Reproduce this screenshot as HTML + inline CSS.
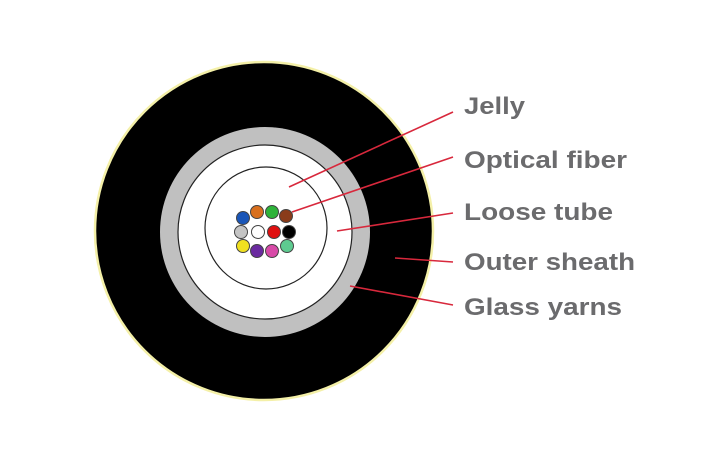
<!DOCTYPE html>
<html><head><meta charset="utf-8"><style>
html,body{margin:0;padding:0;background:#fff;}
svg{display:block;}
text{font-family:"Liberation Sans",sans-serif;font-weight:bold;fill:#6b6b6d;font-size:24px;}
</style></head><body>
<svg width="710" height="474" viewBox="0 0 710 474">
<circle cx="264" cy="231" r="169" fill="#000" stroke="#f4f0a8" stroke-width="2.5"/>
<circle cx="265" cy="232" r="105" fill="#c0c0c0"/>
<circle cx="265" cy="232" r="87" fill="#fff" stroke="#222" stroke-width="1.2"/>
<circle cx="266" cy="228" r="61" fill="#fff" stroke="#222" stroke-width="1.2"/>
<g stroke="#444" stroke-width="1">
<circle cx="243" cy="218" r="6.5" fill="#1a56b8"/>
<circle cx="257" cy="212" r="6.5" fill="#d9701e"/>
<circle cx="272" cy="212" r="6.5" fill="#2eb33a"/>
<circle cx="286" cy="216" r="6.5" fill="#8a3c1a"/>
<circle cx="241" cy="232" r="6.5" fill="#c4c4c4"/>
<circle cx="258" cy="232" r="6.5" fill="#fff"/>
<circle cx="274" cy="232" r="6.5" fill="#e01010"/>
<circle cx="289" cy="232" r="6.5" fill="#000"/>
<circle cx="243" cy="246" r="6.5" fill="#f0e020"/>
<circle cx="257" cy="251" r="6.5" fill="#6a2aa0"/>
<circle cx="272" cy="251" r="6.5" fill="#d84aa8"/>
<circle cx="287" cy="246" r="6.5" fill="#5ecb90"/>
</g>
<g stroke="#d8283c" stroke-width="1.6">
<line x1="289" y1="187" x2="453" y2="112"/>
<line x1="292" y1="212" x2="453" y2="157"/>
<line x1="337" y1="231" x2="453" y2="213"/>
<line x1="395" y1="258" x2="453" y2="262"/>
<line x1="350" y1="286" x2="453" y2="305"/>
</g>
<text x="464" y="114" textLength="61" lengthAdjust="spacingAndGlyphs">Jelly</text>
<text x="464" y="168" textLength="163" lengthAdjust="spacingAndGlyphs">Optical fiber</text>
<text x="464" y="220" textLength="149" lengthAdjust="spacingAndGlyphs">Loose tube</text>
<text x="464" y="270" textLength="171" lengthAdjust="spacingAndGlyphs">Outer sheath</text>
<text x="464" y="315" textLength="158" lengthAdjust="spacingAndGlyphs">Glass yarns</text>
</svg>
</body></html>
